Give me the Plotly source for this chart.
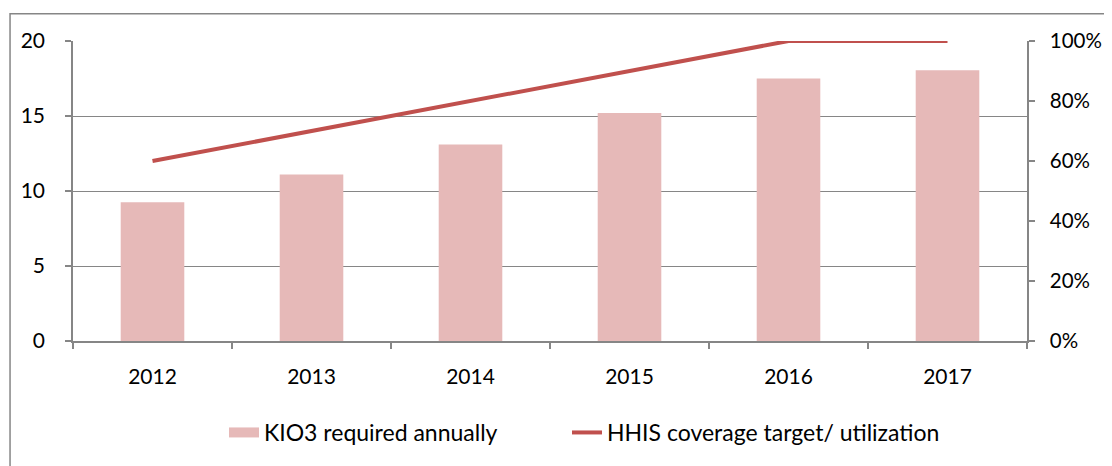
import plotly.graph_objects as go

years = ["2012", "2013", "2014", "2015", "2016", "2017"]
kio3_required = [9.25, 11.1, 13.1, 15.2, 17.5, 18.05]
hhis_coverage = [0.60, 0.70, 0.80, 0.90, 1.00, 1.00]

bar_name = "KIO3 required annually"
line_name = "HHIS coverage target/ utilization"

axis_gray = "#868686"
bar_color = "#E6B9B8"
line_color = "#C0504D"
font = dict(family="Lato, Open Sans, sans-serif", size=21, color="#000000")

fig = go.Figure()
fig.add_trace(go.Bar(x=years, y=kio3_required, name=bar_name, showlegend=False,
                     marker=dict(color=bar_color, line=dict(width=0)), width=0.4, yaxis="y"))
# legend-only entry so the bar swatch is a wide rectangle as in the original
fig.add_trace(go.Scatter(x=[None], y=[None], name=bar_name, mode="lines",
                         line=dict(color=bar_color, width=14), yaxis="y", legend="legend"))
fig.add_trace(go.Scatter(x=years, y=hhis_coverage, name=line_name, mode="lines",
                         line=dict(color=line_color, width=4), yaxis="y2", cliponaxis=False,
                         legend="legend2"))

legend_common = dict(orientation="h", xanchor="left", y=-0.305, yanchor="middle",
                     font=dict(size=23), bgcolor="rgba(0,0,0,0)")

fig.update_layout(
    width=1104, height=458,
    margin=dict(l=65, r=85, t=33, b=116),
    paper_bgcolor="white", plot_bgcolor="white",
    font=font,
    showlegend=True,
    legend=dict(x=0.1583, **legend_common),
    legend2=dict(x=0.5178, **legend_common),
    xaxis=dict(type="category", showline=True, linecolor=axis_gray, linewidth=1.5,
               ticks="outside", tickson="boundaries", ticklen=6, tickcolor=axis_gray,
               tickwidth=1.5, showgrid=False, ticklabelstandoff=16, automargin=False),
    yaxis=dict(range=[0, 20], dtick=5, showgrid=True, gridcolor=axis_gray, gridwidth=1.2,
               showline=True, linecolor=axis_gray, linewidth=1.5, ticks="outside", ticklen=6,
               tickcolor=axis_gray, tickwidth=1.5, zeroline=False, ticklabelstandoff=16,
               automargin=False),
    yaxis2=dict(range=[0, 1], dtick=0.2, tickformat=".0%", overlaying="y", side="right",
                showgrid=False, showline=True, linecolor=axis_gray, linewidth=1.5,
                ticks="outside", ticklen=6, tickcolor=axis_gray, tickwidth=1.5,
                tickfont=dict(size=20.5),
                zeroline=False, ticklabelstandoff=11, automargin=False),
    shapes=[dict(type="rect", xref="paper", yref="paper", x0=-0.066, x1=1.095,
                 y0=-0.45, y1=1.0906, line=dict(color=axis_gray, width=1.5), layer="below")],
)

fig.write_html("out.html")
